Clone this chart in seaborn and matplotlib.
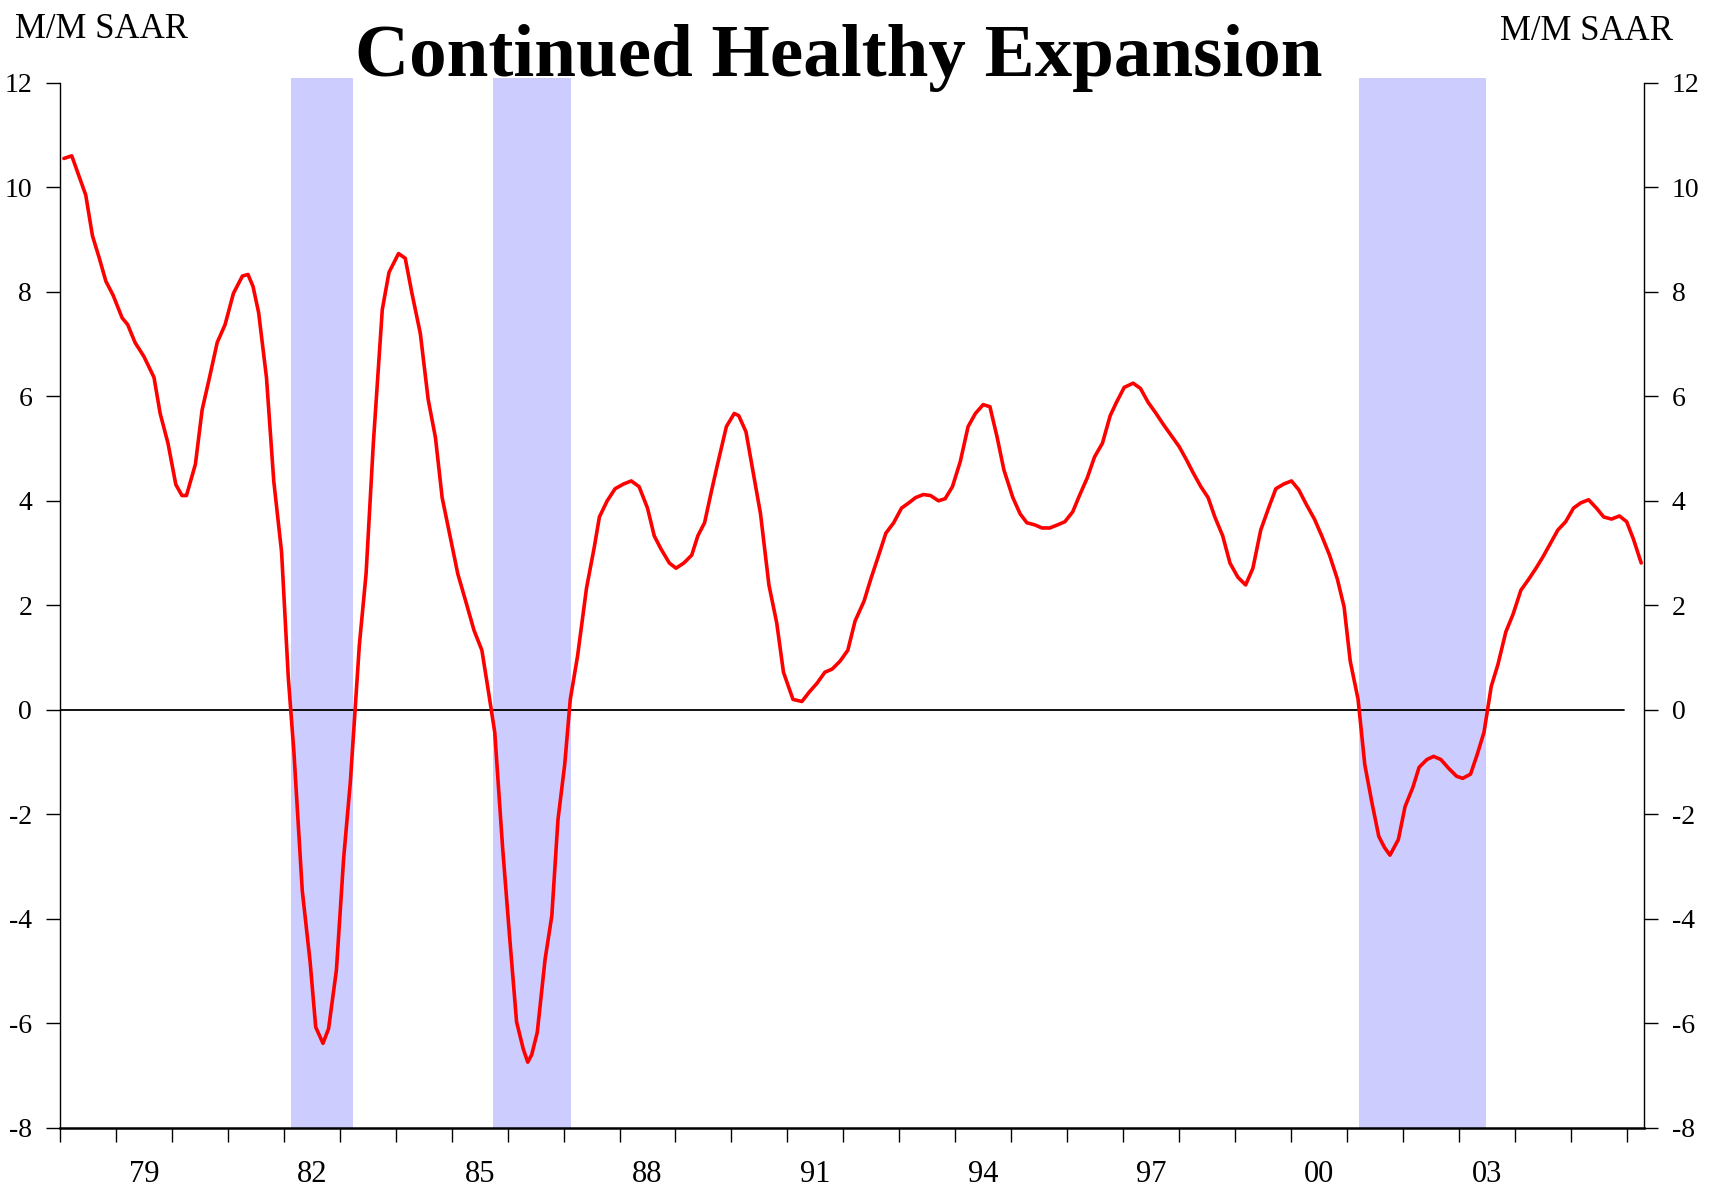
import numpy as np
import pandas as pd
import matplotlib
matplotlib.use("Agg")
import matplotlib.pyplot as plt
import seaborn as sns

# ---------------- data (decimal year, M/M SAAR %) ----------------
years_a = [1978.07, 1978.21, 1978.31, 1978.46, 1978.58, 1978.70, 1978.82, 1978.95, 1979.11, 1979.21,
           1979.34, 1979.50, 1979.68, 1979.79, 1979.93, 1980.07, 1980.18, 1980.26, 1980.42, 1980.54,
           1980.67, 1980.81, 1980.95, 1981.10, 1981.26, 1981.36, 1981.45, 1981.55, 1981.69, 1981.82,
           1981.96, 1982.08, 1982.18, 1982.33, 1982.47, 1982.57, 1982.70, 1982.80, 1982.94, 1983.07,
           1983.19, 1983.35, 1983.47, 1983.60, 1983.76, 1983.88, 1984.05, 1984.17, 1984.29, 1984.44,
           1984.58, 1984.71, 1984.83, 1984.97, 1985.11, 1985.24, 1985.40, 1985.54, 1985.65, 1985.77,
           1985.91, 1986.04, 1986.16, 1986.28, 1986.36, 1986.43, 1986.53, 1986.67, 1986.79, 1986.90]
values_a = [10.55, 10.60, 10.30, 9.85, 9.07, 8.65, 8.20, 7.93, 7.50, 7.37,
            7.03, 6.76, 6.36, 5.67, 5.10, 4.31, 4.10, 4.10, 4.70, 5.74,
            6.35, 7.03, 7.37, 7.97, 8.30, 8.33, 8.10, 7.60, 6.36, 4.38,
            3.02, 0.62, -0.80, -3.46, -4.82, -6.07, -6.38, -6.10, -4.98, -2.83,
            -1.37, 1.24, 2.60, 5.10, 7.66, 8.37, 8.73, 8.64, 7.97, 7.20,
            5.94, 5.21, 4.06, 3.33, 2.60, 2.12, 1.52, 1.14, 0.40, -0.43,
            -2.63, -4.40, -5.97, -6.49, -6.74, -6.60, -6.17, -4.77, -3.94, -2.10]

years_b = [1987.02, 1987.12, 1987.25, 1987.41, 1987.55, 1987.64, 1987.78, 1987.92, 1988.07, 1988.21,
           1988.35, 1988.50, 1988.62, 1988.74, 1988.89, 1989.01, 1989.15, 1989.29, 1989.40, 1989.52,
           1989.64, 1989.75, 1989.91, 1990.05, 1990.13, 1990.26, 1990.38, 1990.52, 1990.67, 1990.81,
           1990.93, 1991.10, 1991.26, 1991.39, 1991.53, 1991.67, 1991.80, 1991.94, 1992.08, 1992.21,
           1992.37, 1992.49, 1992.62, 1992.76, 1992.90, 1993.04, 1993.17, 1993.29, 1993.43, 1993.56,
           1993.70, 1993.82, 1993.95, 1994.09, 1994.23, 1994.36, 1994.50, 1994.62, 1994.75, 1994.87,
           1995.03, 1995.16, 1995.28, 1995.42, 1995.55, 1995.69, 1995.83, 1995.96]
values_b = [-1.05, 0.20, 1.03, 2.33, 3.12, 3.69, 4.00, 4.23, 4.32, 4.38,
            4.27, 3.86, 3.33, 3.08, 2.81, 2.71, 2.81, 2.96, 3.33, 3.58,
            4.17, 4.69, 5.42, 5.67, 5.63, 5.32, 4.59, 3.75, 2.39, 1.66,
            0.72, 0.20, 0.16, 0.34, 0.51, 0.72, 0.78, 0.93, 1.14, 1.70,
            2.08, 2.50, 2.92, 3.38, 3.58, 3.86, 3.96, 4.06, 4.12, 4.10,
            4.00, 4.04, 4.27, 4.75, 5.42, 5.67, 5.84, 5.80, 5.21, 4.59,
            4.06, 3.75, 3.58, 3.54, 3.48, 3.48, 3.54, 3.60]

years_c = [1996.10, 1996.22, 1996.36, 1996.49, 1996.63, 1996.77, 1996.88, 1997.02, 1997.18, 1997.31,
           1997.45, 1997.59, 1997.72, 1997.86, 1998.00, 1998.13, 1998.25, 1998.39, 1998.52, 1998.64,
           1998.78, 1998.91, 1999.05, 1999.19, 1999.32, 1999.46, 1999.60, 1999.73, 1999.87, 2000.01,
           2000.14, 2000.28, 2000.42, 2000.55, 2000.69, 2000.83, 2000.95, 2001.06, 2001.20, 2001.32,
           2001.45, 2001.57, 2001.67, 2001.77, 2001.92, 2002.04, 2002.18, 2002.29, 2002.43, 2002.55,
           2002.68, 2002.82, 2002.96, 2003.07, 2003.21, 2003.33, 2003.45, 2003.58, 2003.70, 2003.84,
           2003.97, 2004.11, 2004.25, 2004.38, 2004.50, 2004.64, 2004.77, 2004.91, 2005.05, 2005.18,
           2005.32, 2005.46, 2005.59, 2005.73, 2005.87, 2006.00, 2006.12, 2006.26]
values_c = [3.79, 4.10, 4.44, 4.84, 5.10, 5.63, 5.88, 6.17, 6.25, 6.15,
            5.88, 5.67, 5.46, 5.25, 5.04, 4.79, 4.54, 4.27, 4.06, 3.69,
            3.33, 2.81, 2.54, 2.39, 2.71, 3.44, 3.86, 4.23, 4.32, 4.38,
            4.21, 3.92, 3.65, 3.33, 2.96, 2.50, 1.97, 0.93, 0.20, -1.05,
            -1.79, -2.42, -2.63, -2.78, -2.48, -1.85, -1.48, -1.10, -0.95, -0.89,
            -0.95, -1.12, -1.27, -1.31, -1.23, -0.85, -0.43, 0.45, 0.87, 1.49,
            1.83, 2.29, 2.50, 2.71, 2.92, 3.19, 3.44, 3.60, 3.86, 3.96,
            4.02, 3.86, 3.69, 3.65, 3.71, 3.60, 3.27, 2.81]

recession_start = [1982.12, 1985.73, 2001.22]
recession_end = [1983.23, 1987.14, 2003.48]

tick_years = list(range(1978, 2007))
label_years = [1979.5, 1982.5, 1985.5, 1988.5, 1991.5, 1994.5, 1997.5, 2000.5, 2003.5]
label_text = ["79", "82", "85", "88", "91", "94", "97", "00", "03"]
y_ticks = [-8, -6, -4, -2, 0, 2, 4, 6, 8, 10, 12]

title = "Continued Healthy Expansion"
unit_label = "M/M SAAR"

# ---------------- plot ----------------
sns.set_style("ticks")
plt.rcParams["font.family"] = ["Liberation Serif", "DejaVu Serif"]
plt.rcParams["text.color"] = "black"
plt.rcParams["axes.edgecolor"] = "black"
plt.rcParams["xtick.color"] = "black"
plt.rcParams["ytick.color"] = "black"
plt.rcParams["xtick.labelcolor"] = "black"
plt.rcParams["ytick.labelcolor"] = "black"

df = pd.DataFrame({"year": years_a + years_b + years_c,
                   "value": values_a + values_b + values_c})

fig = plt.figure(figsize=(17.13, 11.91), dpi=100)
ax = fig.add_axes([0.03503, 0.0529, 0.92469, 0.8777])

for s, e in zip(recession_start, recession_end):
    ax.axvspan(s, e, ymin=0, ymax=1.004, color="#CCCCFF", lw=0, zorder=0, clip_on=False)

ax.plot([1978.0, 2005.95], [0, 0], color="black", lw=1.3, zorder=1)
sns.lineplot(data=df, x="year", y="value", ax=ax, color="#FF0000", lw=2.6, zorder=3)

ax.set_xlim(1978.0, 2006.31)
ax.set_ylim(-8, 12)

ax.set_xticks(tick_years)
ax.set_xticklabels([])
ax.set_xticks(label_years, minor=True)
ax.set_xticklabels(label_text, minor=True)
ax.tick_params(axis="x", which="major", direction="out", length=10, width=1.0, color="black")
ax.tick_params(axis="x", which="minor", length=0, pad=23, labelsize=22, labelcolor="black")

ax.set_yticks(y_ticks)
ax.set_yticklabels([str(v) for v in y_ticks])
ax.tick_params(axis="y", which="major", direction="out", length=10, width=1.0,
               left=True, right=True, labelleft=True, labelright=True,
               labelsize=20, pad=10, colors="black")

ax.set_xlabel("")
ax.set_ylabel("")

for side in ["left", "right"]:
    ax.spines[side].set_visible(True)
    ax.spines[side].set_linewidth(1.0)
    ax.spines[side].set_color("black")
ax.spines["bottom"].set_linewidth(1.8)
ax.spines["bottom"].set_color("black")
ax.spines["top"].set_visible(False)

fig.text(0.4895, 0.936, title, ha="center", va="baseline", fontsize=54, fontweight="bold",
         color="black")
fig.text(0.0085, 0.968, unit_label, ha="left", va="baseline", fontsize=25, color="black")
fig.text(0.9765, 0.966, unit_label, ha="right", va="baseline", fontsize=25, color="black")

fig.savefig("out.png", dpi=100)
